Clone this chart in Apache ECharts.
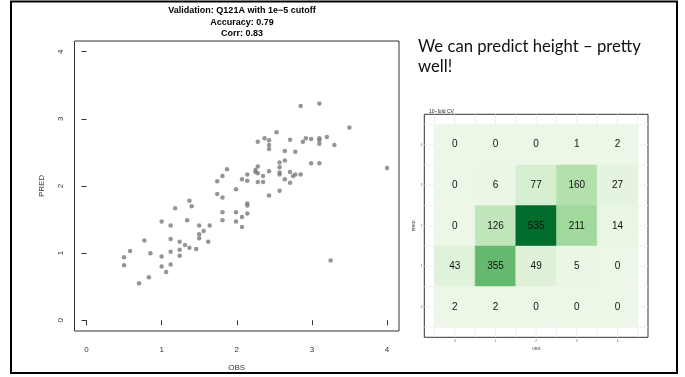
<!DOCTYPE html>
<html><head><meta charset="utf-8">
<script src="https://cdn.jsdelivr.net/npm/echarts@6/dist/echarts.min.js"></script>
<style>html,body{margin:0;padding:0;background:#fff}#c{width:685px;height:377px}</style>
</head><body><div id="c"></div>
<script>
// Scatter: observed vs predicted
const obs = [0.50,0.50,0.58,0.70,0.83,0.77,0.85,1.00,1.00,1.00,1.06,1.12,1.12,1.12,1.12,1.18,1.24,1.24,1.24,1.31,1.34,1.37,1.40,1.37,1.46,1.50,1.50,1.50,1.56,1.62,1.64,1.74,1.74,1.81,1.81,1.81,1.81,1.87,1.99,1.99,1.99,2.07,2.07,2.07,2.14,2.14,2.14,2.14,2.14,2.28,2.35,2.35,2.28,2.25,2.25,2.28,2.43,2.57,2.43,2.57,2.57,2.64,2.71,2.71,2.75,2.78,2.85,2.57,2.57,2.64,2.99,3.10,2.64,2.78,2.28,2.37,2.43,2.43,2.43,2.53,2.71,2.88,2.92,2.99,3.10,3.10,3.10,3.20,3.30,3.50,2.85,3.10,4.00,3.25];
const pred = [0.94,0.82,1.03,0.55,0.64,1.19,1.00,1.47,0.95,0.80,0.72,1.41,1.21,1.02,0.83,1.67,1.17,1.05,0.96,1.12,1.49,1.78,1.70,1.08,1.06,1.41,1.28,1.22,1.33,1.17,1.41,2.07,1.88,2.15,1.83,1.61,1.49,2.25,1.95,1.61,1.47,2.10,1.54,1.39,2.17,2.08,1.74,1.71,1.59,2.06,2.06,2.15,2.19,2.21,2.24,2.29,1.86,1.93,2.22,2.20,2.17,2.10,2.05,2.21,2.15,2.17,2.17,2.28,2.35,2.38,2.34,2.34,2.52,2.51,2.66,2.71,2.68,2.61,2.55,2.80,2.69,2.66,2.71,2.70,2.71,2.68,2.63,2.73,2.61,2.87,3.19,3.23,2.27,0.89];
const scatterTicks = [0,1,2,3,4];
const titleLines = ['Validation: Q121A with 1e\u22125 cutoff','Accuracy: 0.79','Corr: 0.83'];

// Confusion matrix (10-fold CV): rows = PRED 4..0, cols = OBS 0..4
const obsLevels = [0,1,2,3,4];
const predLevels = [4,3,2,1,0];
const counts = [
  [0,0,0,1,2],
  [0,6,77,160,27],
  [0,126,535,211,14],
  [43,355,49,5,0],
  [2,2,0,0,0]
];
const heatTicks = [0,1,2,3,4];
const heatMinor = [-0.5,0.5,1.5,2.5,3.5,4.5];

const scatterData = obs.map((o,i)=>[o,pred[i]]);
const tileData = [];
predLevels.forEach((p,r)=>obsLevels.forEach((o,c)=>tileData.push([o,p,counts[r][c]])));
const gridLineVals = heatTicks.concat(heatMinor);

const chart = echarts.init(document.getElementById('c'), null, {renderer:'canvas'});
const smallFont = 'Liberation Sans';
chart.setOption({
  animation:false,
  backgroundColor:'#fff',
  title:[{
    text: titleLines.join('\n'),
    left: 237, top: 0, textAlign:'center',
    textStyle:{fontFamily:'Liberation Sans', fontWeight:'bold', fontSize:9, lineHeight:11.5, color:'#000'}
  },{
    text:'10\u2212fold CV', left:424, top:104,
    textStyle:{fontFamily:smallFont, fontSize:5, fontWeight:'normal', color:'#222'}
  }],
  graphic:[
    {type:'rect', shape:{x:11,y:1.5,width:666,height:371.5}, style:{fill:'none', stroke:'#000', lineWidth:2}, z:100},
    {type:'text', left:418, top:37, style:{text:'We can predict height \u2013 pretty\nwell!', fontFamily:'Lato', fontSize:16.7, lineHeight:19.5, fill:'#111'}}
  ],
  grid:[
    {left:74.5, top:41, width:324.5, height:296, show:true, borderColor:'#333', borderWidth:1, backgroundColor:'transparent'},
    {left:424.3, top:114.3, width:223.7, height:223, show:true, borderColor:'#333', borderWidth:1, backgroundColor:'#fff'}
  ],
  xAxis:[
    {gridIndex:0, type:'value', min:-0.16, max:4.16, name:'OBS', nameLocation:'middle', nameGap:33,
     nameTextStyle:{fontFamily:'Liberation Sans', fontSize:8, color:'#333'},
     axisLine:{show:false}, splitLine:{show:false},
     axisTick:{show:true, inside:false, length:5, customValues:scatterTicks, lineStyle:{color:'#333'}},
     axisLabel:{customValues:scatterTicks, margin:15, fontFamily:'Liberation Sans', fontSize:8, color:'#333'}},
    {gridIndex:1, type:'value', min:-0.75, max:4.75, name:'OBS', nameLocation:'middle', nameGap:9,
     nameTextStyle:{fontFamily:smallFont, fontSize:4, color:'#333'},
     axisLine:{show:false}, splitLine:{show:false},
     axisTick:{show:true, length:1.5, customValues:heatTicks, lineStyle:{color:'#333', width:0.5}},
     axisLabel:{customValues:heatTicks, margin:2, fontFamily:smallFont, fontSize:3, color:'#555'}}
  ],
  yAxis:[
    {gridIndex:0, type:'value', min:-0.16, max:4.16, name:'PRED', nameLocation:'middle', nameGap:29,
     nameTextStyle:{fontFamily:'Liberation Sans', fontSize:8, color:'#333'},
     axisLine:{show:false}, splitLine:{show:false},
     axisTick:{show:true, length:5, customValues:scatterTicks, lineStyle:{color:'#333'}},
     axisLabel:{customValues:scatterTicks, rotate:90, margin:10, fontFamily:'Liberation Sans', fontSize:8, color:'#333'}},
    {gridIndex:1, type:'value', min:-0.75, max:4.75, name:'PRED', nameLocation:'middle', nameGap:8,
     nameTextStyle:{fontFamily:smallFont, fontSize:4, color:'#333'},
     axisLine:{show:false}, splitLine:{show:false},
     axisTick:{show:true, length:1.5, customValues:heatTicks, lineStyle:{color:'#333', width:0.5}},
     axisLabel:{customValues:heatTicks, margin:2, fontFamily:smallFont, fontSize:3, color:'#555'}}
  ],
  visualMap:{show:false, type:'continuous', min:0, max:535, dimension:2, seriesIndex:2,
    inRange:{color:['#edf7e8','#d7efd1','#b7e1b0','#9ad697','#7cc77f','#58b266','#2f8f48','#006d2c']}},
  series:[
    {type:'scatter', xAxisIndex:0, yAxisIndex:0, data:scatterData, symbol:'circle', symbolSize:4.5,
     itemStyle:{color:'#7a7a7a'}, silent:true},
    {type:'custom', xAxisIndex:1, yAxisIndex:1, data:gridLineVals.map(v=>[v]), z:1, silent:true,
     encode:{x:0},
     renderItem:function(params, api){
       const v = api.value(0);
       const a = api.coord([v,-0.75]), b = api.coord([v,4.75]);
       const c = api.coord([-0.75,v]), d = api.coord([4.75,v]);
       const ls = {stroke:'#ebebeb', lineWidth:0.8};
       return {type:'group', children:[
         {type:'line', shape:{x1:a[0],y1:a[1],x2:b[0],y2:b[1]}, style:ls},
         {type:'line', shape:{x1:c[0],y1:c[1],x2:d[0],y2:d[1]}, style:ls}
       ]};
     }},
    {type:'custom', xAxisIndex:1, yAxisIndex:1, data:tileData, z:3, silent:true,
     encode:{x:0, y:1},
     renderItem:function(params, api){
       const x = api.value(0), y = api.value(1);
       const p0 = api.coord([x-0.5, y+0.5]);
       const p1 = api.coord([x+0.5, y-0.5]);
       const col = api.visual('color');
       return {type:'group', children:[
         {type:'rect', shape:{x:p0[0], y:p0[1], width:p1[0]-p0[0], height:p1[1]-p0[1]},
          style:{fill:col, stroke:col, lineWidth:0.5}},
         {type:'text', style:{text:String(api.value(2)), x:(p0[0]+p1[0])/2, y:(p0[1]+p1[1])/2,
          align:'center', verticalAlign:'middle', fill:'#111', font:'10px "Liberation Sans"'}}
       ]};
     }}
  ]
});
</script></body></html>
